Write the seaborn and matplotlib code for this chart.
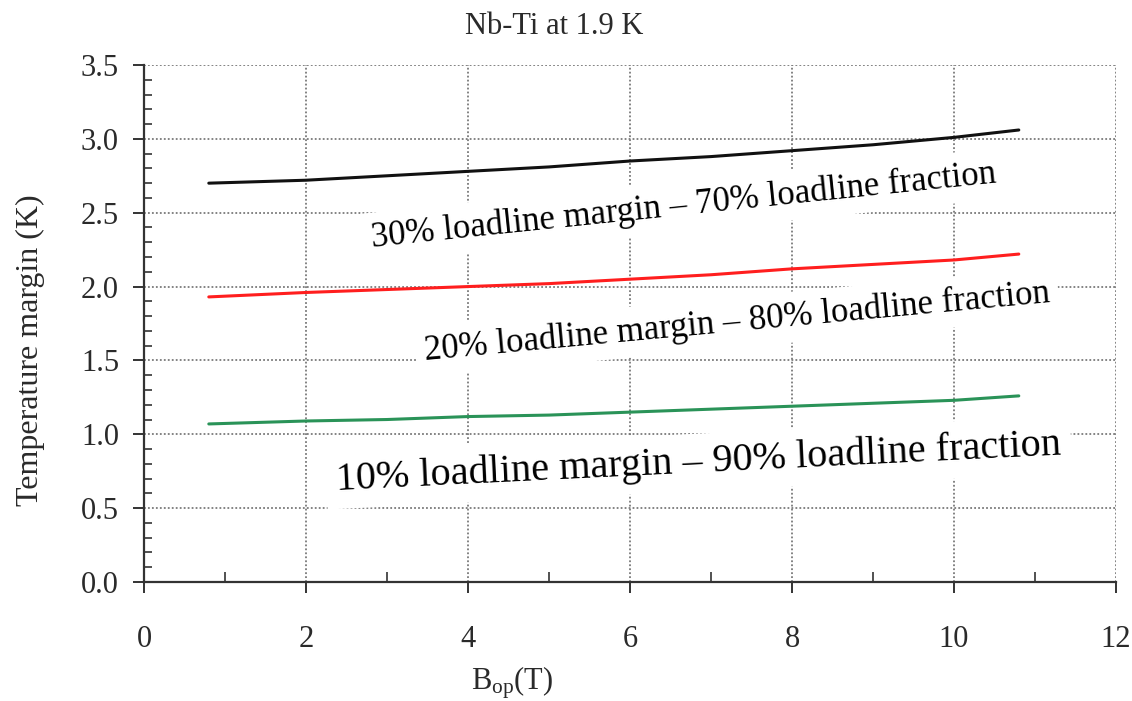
import numpy as np
import pandas as pd
import matplotlib
matplotlib.use("Agg")
import matplotlib.pyplot as plt
from matplotlib.ticker import MultipleLocator
import seaborn as sns

# Operating field B_op (T) sampled along each curve
b_op = [0.8, 2, 3, 4, 5, 6, 7, 8, 9, 10, 10.8]

# Temperature margin (K) for the three loadline settings
margin_30 = [2.70, 2.72, 2.75, 2.78, 2.81, 2.85, 2.88, 2.92, 2.96, 3.01, 3.06]
margin_20 = [1.93, 1.96, 1.98, 2.00, 2.02, 2.05, 2.08, 2.12, 2.15, 2.18, 2.22]
margin_10 = [1.07, 1.09, 1.10, 1.12, 1.13, 1.15, 1.17, 1.19, 1.21, 1.23, 1.26]

series_names = ["30%", "20%", "10%"]
series_colors = ["#111111", "#ff1e1e", "#2a9358"]

curve_labels = [
    "30% loadline margin \u2013 70% loadline fraction",
    "20% loadline margin \u2013 80% loadline fraction",
    "10% loadline margin \u2013 90% loadline fraction",
]

x_ticks = [0, 2, 4, 6, 8, 10, 12]
y_ticks = [0.0, 0.5, 1.0, 1.5, 2.0, 2.5, 3.0, 3.5]

title_text = "Nb-Ti at 1.9 K"
y_label = "Temperature margin (K)"
x_label = r"$\mathrm{B_{op}(T)}$"

df = pd.DataFrame({
    "B": b_op * 3,
    "margin": margin_30 + margin_20 + margin_10,
    "series": [s for s in series_names for _ in b_op],
})

sns.set_style("ticks")
plt.rcParams["font.family"] = ["Liberation Serif", "DejaVu Serif"]
plt.rcParams["mathtext.fontset"] = "custom"
plt.rcParams["mathtext.rm"] = "Liberation Serif"
plt.rcParams["mathtext.it"] = "Liberation Serif:italic"

fig = plt.figure(figsize=(11.32, 7.01), dpi=100)
ax = fig.add_axes([144 / 1132, 1 - 582 / 701, (1116 - 144) / 1132, (582 - 65) / 701])

sns.lineplot(data=df, x="B", y="margin", hue="series", hue_order=series_names,
             palette=series_colors, legend=False, linewidth=2.2, ax=ax,
             zorder=4, sort=False)

ax.set_xlim(0, 12)
ax.set_ylim(0, 3.5)
ax.set_xticks(x_ticks)
ax.set_xticklabels([str(t) for t in x_ticks])
ax.set_yticks(y_ticks)
ax.set_yticklabels([f"{t:.1f}" for t in y_ticks])
ax.xaxis.set_minor_locator(MultipleLocator(1))
ax.yaxis.set_minor_locator(MultipleLocator(0.1))

ax.grid(True, which="major", color="#7a7a7a", linestyle=(0, (1, 1.2)), linewidth=1.3, zorder=1)
ax.set_axisbelow(True)

for side in ["top", "right"]:
    ax.spines[side].set_visible(False)
for side in ["left", "bottom"]:
    ax.spines[side].set_color("#333333")
    ax.spines[side].set_linewidth(1.6)

ax.tick_params(axis="x", which="major", direction="out", length=8, width=1.4,
               color="#333333", labelsize=22, labelcolor="#2a2a2a", pad=23)
ax.tick_params(axis="x", which="minor", direction="in", length=7, width=1.2, color="#333333")
ax.tick_params(axis="y", which="major", direction="out", length=8, width=1.4,
               color="#333333", labelsize=22, labelcolor="#2a2a2a", pad=10)
ax.tick_params(axis="y", which="minor", direction="in", length=5.5, width=1.2, color="#333333")

ax.set_xlabel("")
ax.set_ylabel("")

fig.text(554 / 1132, 1 - 27 / 701, title_text, ha="center", va="center",
         fontsize=22, color="#2a2a2a")
fig.text(30 / 1132, 1 - 350 / 701, y_label, ha="center", va="center",
         rotation=90, fontsize=23, color="#2a2a2a")
fig.text(512 / 1132, 1 - 683 / 701, x_label, ha="center", va="center",
         fontsize=22, color="#2a2a2a")

# Curve annotations on white boxes, laid along the curves
label_pos = [(2.815, 2.268, 5.9, 25), (3.47, 1.503, 5.3, 25), (2.38, 0.623, 2.8, 29)]
for text, (lx, ly, rot, fs) in zip(curve_labels, label_pos):
    ax.text(lx, ly, text, ha="left", va="baseline", rotation=rot,
            rotation_mode="anchor", fontsize=fs, color="black", zorder=3,
            bbox=dict(boxstyle="square,pad=0.25", facecolor="white", edgecolor="none"))

fig.savefig("out.png", dpi=100)
